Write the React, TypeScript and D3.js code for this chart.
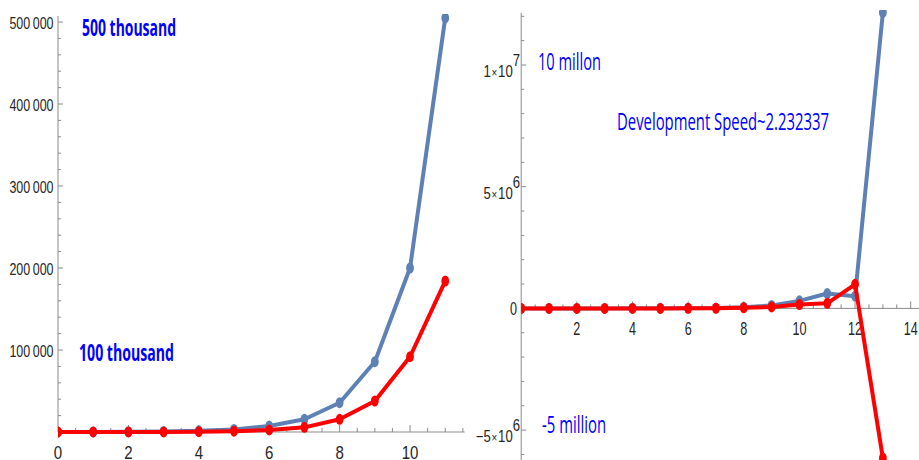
import React from "react";
import * as d3 from "d3";

// ---- data ----
const leftX = [0, 1, 2, 3, 4, 5, 6, 7, 8, 9, 10, 11];
const leftBlue = [40, 100, 250, 600, 1400, 3200, 7300, 15500, 35700, 85700, 200000, 505000];
const leftRed = [10, 25, 60, 150, 400, 1000, 2500, 5700, 15500, 37800, 91800, 184000];

const rightX = [0, 1, 2, 3, 4, 5, 6, 7, 8, 9, 10, 11, 12, 13];
const rightBlue = [40, 100, 250, 600, 1400, 3200, 7300, 15500, 50000, 120000, 310000, 610000, 500000, 12160000];
const rightRed = [10, 25, 60, 150, 400, 1000, 2500, 5700, 25000, 60000, 160000, 210000, 990000, -6150000];

const leftXTicks = [0, 2, 4, 6, 8, 10];
const leftYTicks = [100000, 200000, 300000, 400000, 500000];
const leftYLabels = ["100\u2009000", "200\u2009000", "300\u2009000", "400\u2009000", "500\u2009000"];
const rightXTicks = [2, 4, 6, 8, 10, 12, 14];
const rightYTicks = [-5000000, 0, 5000000, 10000000];
const rightYMant = ["\u22125", "0", "5", "1"];
const rightYExp = ["6", "", "6", "7"];

const BLUE = "#5E81B5";
const RED = "#FF0000";
const AXIS = "#8a8a8a";
const LABEL = "#262626";
const ANNOT = "#0000FF";
const TICKFONT = "'Liberation Sans', Arial, sans-serif";
const ANNFONT = "'Open Sans', 'Noto Sans', sans-serif";

function NText(props: {
  x: number;
  y: number;
  sx: number;
  size: number;
  anchor: string;
  children: any;
}) {
  return (
    <g transform={`translate(${props.x},${props.y}) scale(${props.sx},1)`}>
      <text x={0} y={0} textAnchor={props.anchor as any} fontFamily={TICKFONT} fontSize={props.size} fill={LABEL}>
        {props.children}
      </text>
    </g>
  );
}

export default function App() {
  const W = 919, H = 460;
  // left panel scales
  const xL = d3.scaleLinear().domain([0, 11.55]).range([58, 464.6]);
  const yL = d3.scaleLinear().domain([0, 500000]).range([432, 22]);
  // right panel scales
  const xR = d3.scaleLinear().domain([0, 14]).range([521.2, 910.7]);
  const yR = d3.scaleLinear().domain([0, 10000000]).range([308.4, 65]);

  const lineL = d3.line<number>().x((_, i) => xL(leftX[i])).y((d) => yL(d));
  const lineR = d3.line<number>().x((_, i) => xR(rightX[i])).y((d) => yR(d));

  const lMinorX = d3.range(0.5, 11.6, 0.5);
  const lMinorY = d3.range(20000, 500001, 20000);
  const rMinorX = d3.range(0.5, 14.3, 0.5);
  const rMinorY = d3.range(-6000000, 12000001, 1000000);

  const series = (vals: number[], xs: number[], sx: any, sy: any, line: any, color: string) => (
    <g>
      <path d={line(vals) || ""} fill="none" stroke={color} strokeWidth={4} strokeLinejoin="round" />
      {vals.map((v, i) => (
        <ellipse key={i} cx={sx(xs[i])} cy={sy(v)} rx={3.9} ry={5.5} fill={color} />
      ))}
    </g>
  );

  return (
    <svg width={W} height={H} style={{ position: "absolute", left: 0, top: 0, background: "#fff" }}>
      <defs>
        <clipPath id="clipL">
          <rect x={58} y={14} width={406} height={446} />
        </clipPath>
        <clipPath id="clipR">
          <rect x={521.2} y={10} width={398} height={450} />
        </clipPath>
      </defs>
      <rect x={0} y={0} width={W} height={H} fill="#fff" />

      {/* ---------- LEFT PANEL ---------- */}
      <g>
        <line x1={58} x2={464.6} y1={yL(0)} y2={yL(0)} stroke={AXIS} strokeWidth={1} />
        <line x1={58} x2={58} y1={16} y2={yL(0)} stroke={AXIS} strokeWidth={1} />
        {lMinorX.map((t) => (
          <line key={"lmx" + t} x1={xL(t)} x2={xL(t)} y1={yL(0)} y2={yL(0) - (t % 2 === 0 ? 7 : 4)} stroke={AXIS} />
        ))}
        {lMinorY.map((t) => (
          <line key={"lmy" + t} x1={58} x2={58 + (t % 100000 === 0 ? 5 : 3)} y1={yL(t)} y2={yL(t)} stroke={AXIS} />
        ))}
        {leftXTicks.map((t) => (
          <NText key={"lxt" + t} x={xL(t)} y={458.5} sx={0.86} size={17.5} anchor="middle">
            {t}
          </NText>
        ))}
        {leftYTicks.map((t, i) => (
          <NText key={"lyt" + t} x={53.5} y={yL(t) + 7} sx={0.78} size={16} anchor="end">
            {leftYLabels[i]}
          </NText>
        ))}
        <g clipPath="url(#clipL)">
          {series(leftBlue, leftX, xL, yL, lineL, BLUE)}
          {series(leftRed, leftX, xL, yL, lineL, RED)}
        </g>
        <text x={82} y={36} fontFamily={ANNFONT} fontWeight="bold" fontSize={24} fill={ANNOT} textLength={94} lengthAdjust="spacingAndGlyphs">
          500 thousand
        </text>
        <text x={79} y={361} fontFamily={ANNFONT} fontWeight="bold" fontSize={24} fill={ANNOT} textLength={95} lengthAdjust="spacingAndGlyphs">
          100 thousand
        </text>
      </g>

      {/* ---------- RIGHT PANEL ---------- */}
      <g>
        <line x1={521.2} x2={919} y1={yR(0)} y2={yR(0)} stroke={AXIS} strokeWidth={1} />
        <line x1={521.2} x2={521.2} y1={13} y2={460} stroke={AXIS} strokeWidth={1} />
        {rMinorX.map((t) => (
          <line key={"rmx" + t} x1={xR(t)} x2={xR(t)} y1={yR(0)} y2={yR(0) - (t % 2 === 0 ? 7 : 4)} stroke={AXIS} />
        ))}
        {rMinorY.map((t) => (
          <line key={"rmy" + t} x1={521.2} x2={521.2 + (t % 5000000 === 0 ? 5 : 3)} y1={yR(t)} y2={yR(t)} stroke={AXIS} />
        ))}
        {rightXTicks.map((t) => (
          <NText key={"rxt" + t} x={xR(t)} y={335} sx={0.7} size={18} anchor="middle">
            {t}
          </NText>
        ))}
        {rightYTicks.map((t, i) =>
          t === 0 ? (
            <NText key={"ryt" + t} x={517} y={yR(t) + 7} sx={0.7} size={18} anchor="end">
              0
            </NText>
          ) : (
            <NText key={"ryt" + t} x={520} y={yR(t) + 12} sx={0.82} size={16} anchor="end">
              <tspan>{rightYMant[i]}</tspan>
              <tspan fontSize={12} dx={1}>×</tspan>
              <tspan dx={1}>10</tspan>
              <tspan fontSize={16} dy={-11}>{rightYExp[i]}</tspan>
            </NText>
          )
        )}
        <g clipPath="url(#clipR)">
          {series(rightBlue, rightX, xR, yR, lineR, BLUE)}
          {series(rightRed, rightX, xR, yR, lineR, RED)}
        </g>
        <text x={538} y={70} fontFamily={ANNFONT} fontSize={24} fill={ANNOT} textLength={63} lengthAdjust="spacingAndGlyphs">
          10 millon
        </text>
        <text x={617} y={130} fontFamily={ANNFONT} fontSize={24} fill={ANNOT} textLength={212} lengthAdjust="spacingAndGlyphs">
          Development Speed~2.232337
        </text>
        <text x={542} y={433} fontFamily={ANNFONT} fontSize={24} fill={ANNOT} textLength={64} lengthAdjust="spacingAndGlyphs">
          -5 million
        </text>
      </g>
    </svg>
  );
}
